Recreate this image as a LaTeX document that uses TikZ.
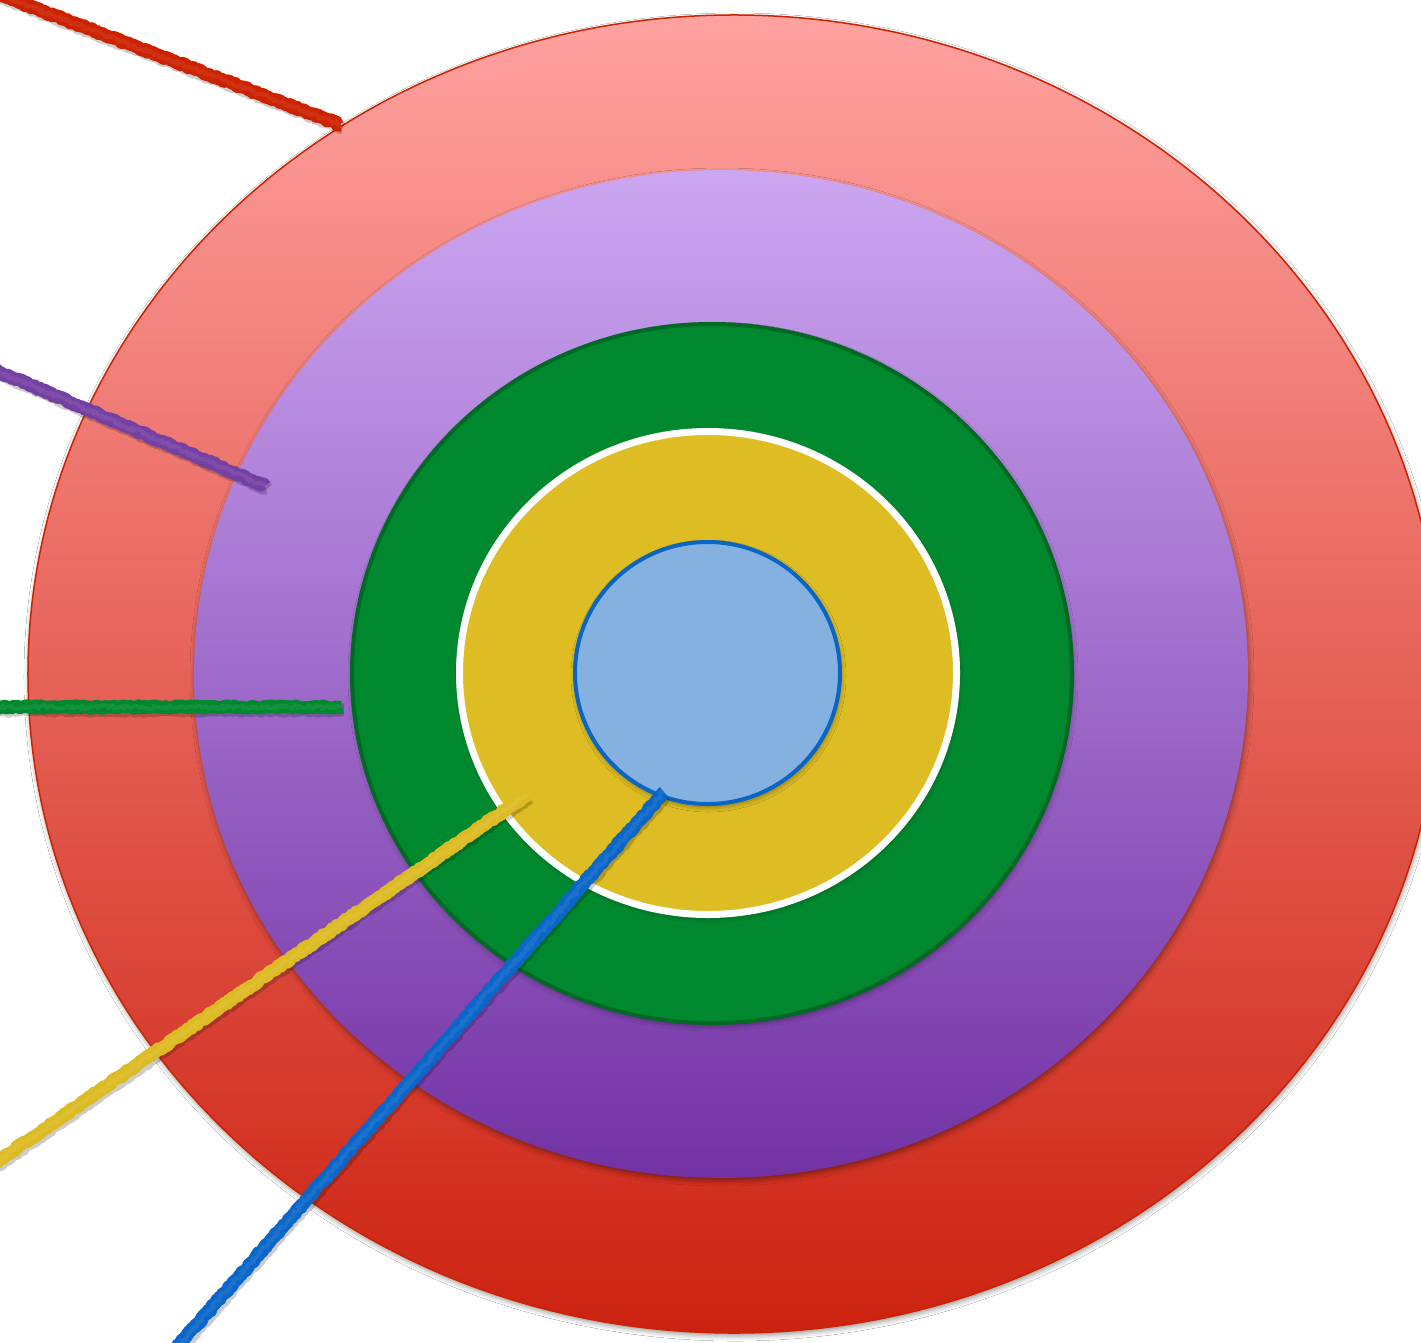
\documentclass[tikz,border=0pt]{standalone}
\usetikzlibrary{shapes.geometric,shadows.blur,decorations.pathmorphing}
\definecolor{redTop}{HTML}{FFA2A0}
\definecolor{redMid}{HTML}{E8746F}
\definecolor{redBot}{HTML}{CC2210}
\definecolor{redEdge}{HTML}{CC2200}
\definecolor{purTop}{HTML}{CCA6F1}
\definecolor{purMid}{HTML}{A679CF}
\definecolor{purBot}{HTML}{7232A4}
\definecolor{grnFill}{HTML}{00882E}
\definecolor{grnEdge}{HTML}{006A24}
\definecolor{yelFill}{HTML}{DDBC24}
\definecolor{bluFill}{HTML}{84B1E0}
\definecolor{bluEdge}{HTML}{0A66C4}
\definecolor{lnRed}{HTML}{CC2200}
\definecolor{lnPur}{HTML}{7440A2}
\definecolor{lnGrn}{HTML}{00882E}
\definecolor{lnYel}{HTML}{DDBB22}
\definecolor{lnBlu}{HTML}{0A66C8}
\begin{document}
\begin{tikzpicture}[x=1bp,y=-1bp,
  ring/.style={ellipse, inner sep=0pt, outer sep=0pt,
    blur shadow={shadow xshift=1bp, shadow yshift=-3bp, shadow blur radius=5bp, shadow opacity=40}},
  chalk/.style={line width=13bp, line cap=butt, line join=round, decorate,
    decoration={random steps, segment length=2bp, amplitude=1.2bp}},
  chalkedge/.style={line width=4bp, line cap=butt, line join=round, decorate,
    decoration={random steps, segment length=2bp, amplitude=2bp}},
  chalkshadow/.style={chalk, line width=13bp, black, opacity=0.2}]
\pgfmathsetseed{7}
\useasboundingbox (0,0) rectangle (1421,1343);
\clip (0,0) rectangle (1421,1343);
\fill[white] (0,0) rectangle (1421,1343);

\node[ring, draw=redEdge, line width=1.5bp, top color=redTop, middle color=redMid, bottom color=redBot,
  minimum width=1412bp, minimum height=1318bp] (outer) at (734,674) {};
\node[ring, draw=none, top color=purTop, middle color=purMid, bottom color=purBot,
  minimum width=1054bp, minimum height=1008bp] (purple) at (721,674) {};
\node[ring, draw=grnEdge, line width=4bp, fill=grnFill,
  minimum width=720bp, minimum height=699bp] (green) at (712,673.5) {};
\node[ring, draw=white, line width=7bp, fill=yelFill,
  minimum width=497bp, minimum height=483bp] (yellow) at (708,673) {};
\node[ring, draw=bluEdge, line width=4bp, fill=bluFill,
  minimum width=265bp, minimum height=262bp] (blue) at (707.5,673) {};

\coordinate (r1) at (-5,-7);    \coordinate (r2) at (341,125);
\coordinate (p1) at (-5,370);   \coordinate (p2) at (265,486);
\coordinate (g1) at (-5,707);   \coordinate (g2) at (342,707);
\coordinate (y1) at (-5,1163);  \coordinate (y2) at (527,795);
\coordinate (b1) at (178,1346); \coordinate (b2) at (664,792);

\foreach \s/\e/\c in {r1/r2/lnRed, p1/p2/lnPur, g1/g2/lnGrn, y1/y2/lnYel, b1/b2/lnBlu}{
  \draw[chalkshadow] ([shift={(2,3)}]\s) -- ([shift={(2,3)}]\e);
  \draw[chalk, draw=\c] (\s) -- (\e);
  \draw[chalkedge, draw=\c!75!white, opacity=0.3] (\s) -- (\e);
}
\end{tikzpicture}
\end{document}
